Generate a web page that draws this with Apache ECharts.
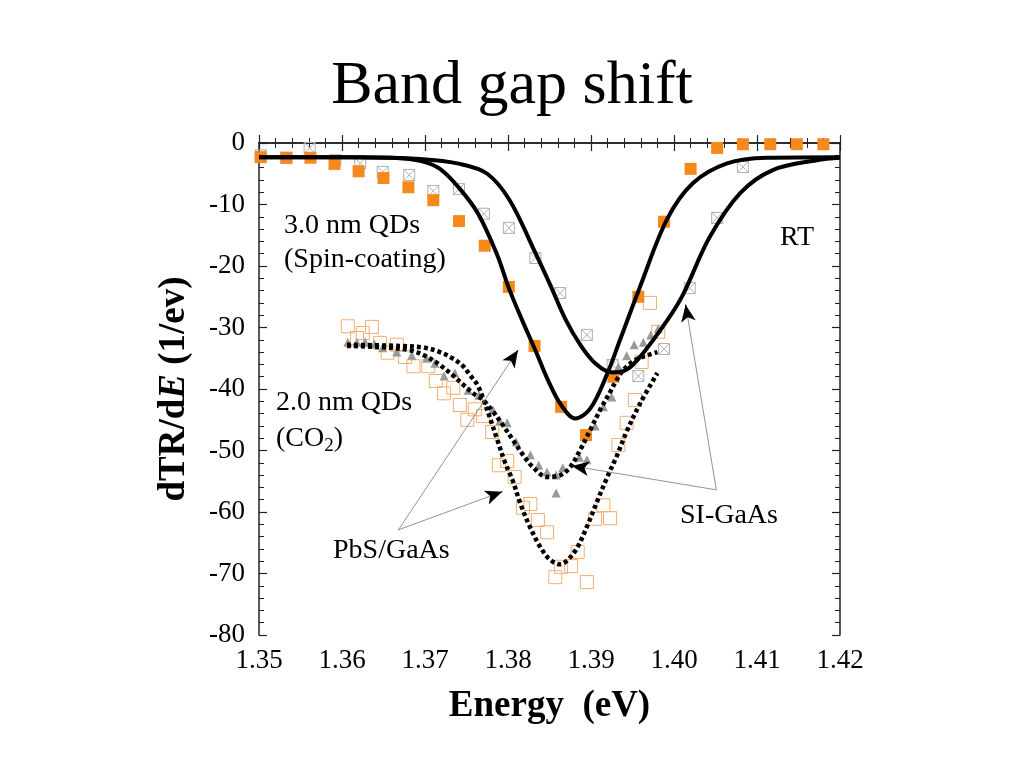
<!DOCTYPE html>
<html>
<head>
<meta charset="utf-8">
<script src="https://cdn.jsdelivr.net/npm/echarts@6/dist/echarts.min.js"></script>
<style>html,body{margin:0;padding:0;background:#fff;}#c{width:1024px;height:768px;}</style>
</head>
<body>
<div id="c"></div>
<script>
// ---- data ----
const xTicks = [1.35, 1.36, 1.37, 1.38, 1.39, 1.40, 1.41, 1.42];
const yTicks = [0, -10, -20, -30, -40, -50, -60, -70, -80];

// 3.0 nm QDs (spin-coating): PbS/GaAs data (filled orange squares)
const spinPbsX = [1.3502,1.3533,1.3562,1.3591,1.3620,1.3650,1.3680,1.3710,1.3741,1.3772,1.3801,1.3832,1.3864,1.3894,1.3927,1.3957,1.3988,1.4020,1.4052,1.4083,1.4116,1.4148,1.4180];
const spinPbsY = [-2.3,-2.4,-2.4,-3.4,-4.6,-5.7,-7.2,-9.3,-12.7,-16.7,-23.4,-33.0,-42.9,-47.5,-38.0,-25.0,-12.8,-4.2,-0.8,-0.2,-0.2,-0.2,-0.2];

// 3.0 nm QDs: SI-GaAs data (crossed squares)
const spinSiX = [1.3502,1.3533,1.3561,1.3592,1.3622,1.3649,1.3681,1.3710,1.3741,1.3771,1.3801,1.3833,1.3863,1.3895,1.3926,1.3957,1.3988,1.4019,1.4052,1.4083];
const spinSiY = [-2.0,-2.4,-0.8,-2.8,-3.3,-4.7,-5.2,-7.8,-7.5,-11.5,-13.8,-18.7,-24.4,-31.2,-36.1,-37.9,-33.5,-23.6,-12.2,-3.9];

// fit curves (solid)
const fitPbsX = [1.3500,1.3600,1.3660,1.3694,1.3718,1.3741,1.3764,1.3787,1.3801,1.3817,1.3833,1.3848,1.3864,1.3881,1.3899,1.3919,1.3935,1.3959,1.3992,1.4023,1.4064,1.4112,1.4200];
const fitPbsY = [-2.3,-2.3,-2.4,-2.9,-4.2,-7.3,-11.5,-18.2,-23.6,-28.8,-33.7,-38.5,-42.6,-44.8,-43.2,-37.7,-32.0,-23.4,-12.3,-6.5,-3.3,-2.4,-2.3];
const fitSiX = [1.3500,1.3620,1.3694,1.3742,1.3775,1.3802,1.3830,1.3851,1.3869,1.3887,1.3905,1.3925,1.3941,1.3959,1.3992,1.4011,1.4043,1.4080,1.4119,1.4172,1.4200];
const fitSiY = [-2.3,-2.3,-2.6,-3.4,-5.0,-9.3,-17.0,-23.1,-28.6,-32.8,-35.8,-37.3,-37.0,-34.8,-28.8,-24.6,-15.3,-8.1,-4.4,-2.8,-2.4];

// 2.0 nm QDs (CO2): PbS/GaAs data (open orange squares)
const co2PbsX = [1.3607,1.3618,1.3625,1.3636,1.3646,1.3655,1.3666,1.3676,1.3686,1.3704,1.3713,1.3723,1.3734,1.3742,1.3751,1.3760,1.3770,1.3781,1.3789,1.3799,1.3808,1.3818,1.3827,1.3836,1.3847,1.3857,1.3864,1.3876,1.3884,1.3895,1.3905,1.3915,1.3923,1.3933,1.3943,1.3953,1.3961,1.3971,1.3981];
const co2PbsY = [-29.8,-31.7,-30.9,-29.9,-32.5,-34.1,-32.8,-34.8,-36.3,-36.3,-38.7,-40.7,-39.8,-42.6,-45.0,-43.3,-44.4,-47.0,-52.4,-51.7,-54.3,-59.3,-58.7,-61.3,-63.3,-70.6,-68.9,-68.8,-66.5,-71.4,-61.1,-58.9,-61.0,-49.1,-45.5,-41.8,-35.6,-26.0,-30.7];

// 2.0 nm QDs: SI-GaAs data (gray triangles)
const co2SiX = [1.3607,1.3618,1.3628,1.3639,1.3649,1.3666,1.3684,1.3702,1.3712,1.3723,1.3736,1.3752,1.3765,1.3782,1.3790,1.3799,1.3810,1.3827,1.3837,1.3847,1.3858,1.3858,1.3866,1.3886,1.3895,1.3905,1.3915,1.3925,1.3933,1.3943,1.3952,1.3963,1.3972,1.3981];
const co2SiY = [-32.4,-32.4,-32.4,-32.7,-33.3,-34.0,-34.5,-35.0,-35.8,-37.9,-37.4,-40.2,-41.0,-43.4,-45.2,-45.5,-48.6,-50.7,-52.4,-53.5,-54.0,-56.9,-52.8,-51.1,-51.5,-46.0,-42.9,-41.3,-36.4,-34.6,-32.8,-32.4,-31.2,-30.2];

// fit curves (dotted)
const fitCo2SiX = [1.3606,1.3646,1.3682,1.3700,1.3718,1.3733,1.3746,1.3758,1.3770,1.3782,1.3794,1.3806,1.3818,1.3830,1.3847,1.3863,1.3875,1.3887,1.3899,1.3911,1.3923,1.3931,1.3939,1.3953,1.3968,1.3980];
const fitCo2SiY = [-33.0,-33.2,-33.7,-34.6,-36.1,-37.7,-39.3,-40.7,-41.8,-43.7,-45.9,-48.3,-50.7,-52.7,-54.3,-54.0,-52.7,-49.9,-46.7,-43.4,-40.5,-38.5,-36.9,-35.3,-34.5,-34.0];
const fitCo2PbsX = [1.3606,1.3670,1.3700,1.3718,1.3733,1.3746,1.3754,1.3763,1.3770,1.3778,1.3787,1.3796,1.3806,1.3814,1.3826,1.3839,1.3851,1.3863,1.3871,1.3883,1.3895,1.3907,1.3919,1.3931,1.3943,1.3959,1.3980];
const fitCo2PbsY = [-32.8,-33.0,-33.3,-34.0,-35.0,-36.3,-37.7,-39.3,-41.5,-44.6,-48.2,-51.8,-55.0,-58.3,-62.3,-65.7,-67.8,-68.5,-67.9,-65.9,-62.4,-58.4,-54.5,-50.9,-46.9,-42.4,-37.4];

// annotation arrows: [fromX, fromY, toX, toY]
const arrowPbs1 = [1.3668, -62.9, 1.3812, -33.7];
const arrowPbs2 = [1.3668, -62.9, 1.3793, -56.7];
const arrowSi1 = [1.4051, -56.4, 1.3877, -52.5];
const arrowSi2 = [1.4051, -56.4, 1.4014, -26.3];

// ---- build ----
const zip = (xs, ys) => xs.map((x, i) => [x, ys[i]]);
const FONT = '"Liberation Serif", "Times New Roman", serif';
const arrows = [arrowPbs1, arrowPbs2, arrowSi1, arrowSi2];

const markLines = [];
arrows.forEach(a => {
  markLines.push([{coord: [a[0], a[1]]}, {coord: [a[2], a[3]]}]);
});
const markHeads = [];
arrows.forEach(a => {
  const f = 0.04;
  markHeads.push([{coord: [a[2] + (a[0] - a[2]) * f, a[3] + (a[1] - a[3]) * f]}, {coord: [a[2], a[3]]}]);
});

const chart = echarts.init(document.getElementById('c'));
const crossSym = 'path://M0,0L10,0L10,10L0,10Z M0,0L10,10 M10,0L0,10';

const axisCommon = {
  axisLine: {show: true, lineStyle: {color: '#222', width: 1.5}},
  axisTick: {show: true, inside: true, length: 8, lineStyle: {color: '#222', width: 1.2}},
  minorTick: {show: true, splitNumber: 5, length: 5, lineStyle: {color: '#222', width: 1}},
  splitLine: {show: false}
};

const option = {
  backgroundColor: '#fff',
  animation: false,
  title: {
    text: 'Band gap shift', left: 'center', top: 51,
    textStyle: {fontFamily: FONT, fontSize: 62, fontWeight: 'normal', color: '#000'}
  },
  grid: {left: 259, right: 184, top: 143, bottom: 133},
  xAxis: [
    Object.assign({
      type: 'value', min: 1.35, max: 1.42, interval: 0.01, position: 'bottom',
      axisLabel: {fontFamily: FONT, fontSize: 27, color: '#000', margin: 12,
        formatter: v => { const t = xTicks.find(k => Math.abs(k - v) < 1e-6); return t === undefined ? '' : t.toFixed(2); }},
      name: 'Energy  (eV)', nameLocation: 'middle', nameGap: 53,
      nameTextStyle: {fontFamily: FONT, fontSize: 37, fontWeight: 'bold', color: '#000'}
    }, axisCommon),
    Object.assign({
      type: 'value', min: 1.35, max: 1.42, interval: 0.01, position: 'top',
      axisLabel: {show: false}
    }, axisCommon)
  ],
  yAxis: [
    Object.assign({
      type: 'value', min: -80, max: 0, interval: 10, position: 'left',
      axisLabel: {fontFamily: FONT, fontSize: 27, color: '#000', margin: 14,
        formatter: v => { const t = yTicks.find(k => Math.abs(k - v) < 1e-6); return t === undefined ? '' : String(t); }},
      name: '{b|dTR/d}{i|E}{b| (1/ev)}', nameLocation: 'middle', nameGap: 66, nameRotate: 90,
      nameTextStyle: {
        rich: {
          b: {fontFamily: FONT, fontSize: 37, fontWeight: 'bold', color: '#000'},
          i: {fontFamily: FONT, fontSize: 37, fontWeight: 'bold', fontStyle: 'italic', color: '#000'}
        }
      }
    }, axisCommon),
    Object.assign({
      type: 'value', min: -80, max: 0, interval: 10, position: 'right',
      axisLabel: {show: false}
    }, axisCommon)
  ],
  series: [
    {
      name: 'SI-GaAs (3.0 nm)', type: 'scatter', data: zip(spinSiX, spinSiY),
      symbol: crossSym, symbolSize: 11,
      itemStyle: {color: 'rgba(255,255,255,0)', borderColor: '#b0b0b0', borderWidth: 1, opacity: 1}
    },
    {
      name: 'PbS/GaAs (2.0 nm)', type: 'scatter', data: zip(co2PbsX, co2PbsY),
      symbol: 'rect', symbolSize: 13,
      itemStyle: {color: 'rgba(255,255,255,0)', borderColor: '#f2ae70', borderWidth: 1, opacity: 1}
    },
    {
      name: 'SI-GaAs (2.0 nm)', type: 'scatter', data: zip(co2SiX, co2SiY),
      symbol: 'triangle', symbolSize: 9,
      itemStyle: {color: '#999999', opacity: 1}
    },
    {
      type: 'line', data: zip(fitCo2SiX, fitCo2SiY), showSymbol: false, smooth: 0.35,
      lineStyle: {color: '#000', width: 4.5, type: [4, 3]}
    },
    {
      type: 'line', data: zip(fitCo2PbsX, fitCo2PbsY), showSymbol: false, smooth: 0.35,
      lineStyle: {color: '#000', width: 4.5, type: [4, 3]}
    },
    {
      type: 'line', data: zip(fitPbsX, fitPbsY), showSymbol: false, smooth: 0.35,
      lineStyle: {color: '#000', width: 4}
    },
    {
      type: 'line', data: zip(fitSiX, fitSiY), showSymbol: false, smooth: 0.35,
      lineStyle: {color: '#000', width: 4},
      markLine: {silent: true, symbol: ['none', 'none'], label: {show: false}, animation: false,
        lineStyle: {color: '#777', width: 0.8, type: 'solid'}, data: markLines}
    },
    {
      name: 'PbS/GaAs (3.0 nm)', type: 'scatter', data: zip(spinPbsX, spinPbsY),
      symbol: 'rect', symbolSize: 12,
      itemStyle: {color: '#f7891c', opacity: 1},
      markLine: {silent: true, symbol: ['none', 'arrow'], symbolSize: [11, 17], label: {show: false}, animation: false,
        lineStyle: {color: '#000', width: 1, type: 'solid'}, data: markHeads}
    }
  ],
  graphic: [
    {type: 'text', left: 284, top: 212, style: {text: '3.0 nm QDs', font: '28px ' + FONT, fill: '#000'}},
    {type: 'text', left: 284, top: 246, style: {text: '(Spin-coating)', font: '28px ' + FONT, fill: '#000'}},
    {type: 'text', left: 276, top: 389, style: {text: '2.0 nm QDs', font: '28px ' + FONT, fill: '#000'}},
    {type: 'text', left: 276, top: 425, style: {
      text: '{a|(CO}{s|2}{a|)}',
      rich: {a: {fontFamily: FONT, fontSize: 28, color: '#000'},
             s: {fontFamily: FONT, fontSize: 19, color: '#000', verticalAlign: 'bottom', padding: [14, 0, 0, 0]}}
    }},
    {type: 'text', left: 780, top: 224, style: {text: 'RT', font: '28px ' + FONT, fill: '#000'}},
    {type: 'text', left: 680, top: 502, style: {text: 'SI-GaAs', font: '28px ' + FONT, fill: '#000'}},
    {type: 'text', left: 333, top: 537, style: {text: 'PbS/GaAs', font: '28px ' + FONT, fill: '#000'}}
  ]
};
chart.setOption(option);
</script>
</body>
</html>
